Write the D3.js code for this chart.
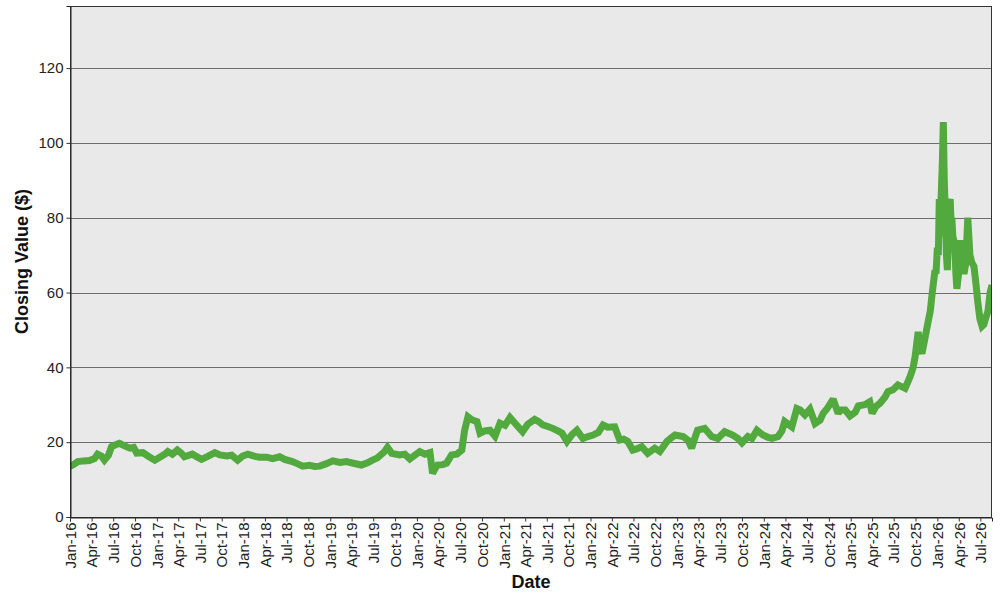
<!DOCTYPE html>
<html>
<head>
<meta charset="utf-8">
<script src="https://cdn.jsdelivr.net/npm/d3@7"></script>
<style>
  html, body { margin: 0; padding: 0; background: #ffffff; }
  svg { display: block; font-family: "Liberation Sans", Arial, sans-serif; }
</style>
</head>
<body>
<svg id="chart" width="1000" height="600"></svg>
<script>
// ---- data ----
const dates = [
"2016-01-01","2016-01-16","2016-02-03","2016-02-27","2016-03-23","2016-04-13","2016-04-26","2016-05-12","2016-05-25","2016-06-11",
"2016-06-24","2016-07-11","2016-07-27","2016-08-18","2016-09-09","2016-09-25","2016-10-08","2016-11-03","2016-11-24","2016-12-23",
"2017-01-13","2017-02-04","2017-02-16","2017-03-07","2017-03-28","2017-04-15","2017-04-27","2017-05-30","2017-06-21","2017-07-08",
"2017-08-03","2017-09-02","2017-09-23","2017-10-22","2017-11-12","2017-12-07","2017-12-28","2018-01-19","2018-02-18","2018-03-09",
"2018-04-08","2018-05-03","2018-06-02","2018-06-23","2018-07-26","2018-08-17","2018-09-07","2018-10-06","2018-10-27","2018-11-18",
"2018-12-13","2019-01-12","2019-02-11","2019-03-10","2019-04-13","2019-05-12","2019-06-07","2019-06-28","2019-07-19","2019-08-18",
"2019-08-30","2019-09-17","2019-10-20","2019-11-11","2019-12-02","2019-12-23","2020-01-13","2020-02-04","2020-02-25","2020-03-07",
"2020-03-20","2020-03-28","2020-04-19","2020-05-05","2020-05-26","2020-06-17","2020-07-08","2020-07-20","2020-08-03","2020-08-19",
"2020-09-10","2020-09-23","2020-10-13","2020-11-04","2020-11-25","2020-12-16","2021-01-06","2021-01-27","2021-02-18","2021-03-04",
"2021-03-21","2021-04-12","2021-05-11","2021-05-28","2021-06-14","2021-07-05","2021-07-26","2021-08-17","2021-09-03","2021-09-24",
"2021-10-15","2021-11-05","2021-11-30","2021-12-21","2022-01-12","2022-02-03","2022-02-23","2022-03-14","2022-04-13","2022-05-04",
"2022-05-21","2022-06-07","2022-06-28","2022-07-14","2022-08-05","2022-08-30","2022-09-29","2022-10-20","2022-11-19","2022-12-10",
"2022-12-23","2023-01-26","2023-02-16","2023-03-03","2023-03-16","2023-03-28","2023-04-27","2023-05-26","2023-06-21","2023-07-20",
"2023-08-23","2023-09-14","2023-10-01","2023-10-26","2023-11-12","2023-12-03","2023-12-28","2024-01-19","2024-02-05","2024-03-01",
"2024-03-17","2024-03-29","2024-04-28","2024-05-19","2024-06-02","2024-06-22","2024-07-13","2024-08-04","2024-08-25","2024-09-07",
"2024-09-24","2024-10-19","2024-11-09","2024-11-18","2024-12-09","2024-12-29","2025-01-20","2025-02-02","2025-03-01","2025-03-22",
"2025-04-01","2025-04-17","2025-05-04","2025-05-25","2025-06-07","2025-06-28","2025-07-19","2025-08-18","2025-09-08","2025-09-21",
"2025-09-29","2025-10-12","2025-10-20","2025-10-28","2025-11-11","2025-11-23","2025-12-02","2025-12-10","2025-12-22","2025-12-26",
"2026-01-01","2026-01-05","2026-01-09","2026-01-13","2026-01-17","2026-01-22","2026-01-26","2026-01-30","2026-02-04","2026-02-08",
"2026-02-12","2026-02-16","2026-02-20","2026-02-24","2026-02-28","2026-03-03","2026-03-07","2026-03-15","2026-03-20","2026-03-24",
"2026-04-02","2026-04-06","2026-04-10","2026-04-14","2026-04-23","2026-05-01","2026-05-09","2026-05-18","2026-05-26","2026-06-04",
"2026-06-13","2026-06-21","2026-06-29","2026-07-08","2026-07-16","2026-07-25","2026-08-02","2026-08-11","2026-08-19"
];
const closing = [
13.5,14.0,14.8,15.0,15.1,15.6,16.8,16.3,15.2,16.5,
18.8,19.3,19.7,19.0,18.4,18.6,17.1,17.2,16.3,15.2,
16.0,16.8,17.5,16.8,17.9,17.0,16.1,16.8,16.0,15.4,
16.2,17.2,16.6,16.3,16.5,15.2,16.3,16.8,16.2,16.0,
16.0,15.6,16.1,15.4,14.8,14.2,13.6,13.8,13.5,13.6,
14.2,15.0,14.6,14.8,14.3,13.9,14.5,15.2,15.8,17.5,
18.6,17.0,16.6,16.8,15.5,16.5,17.5,16.8,17.2,11.7,
13.2,13.9,14.0,14.4,16.6,16.8,17.9,23.2,26.8,26.0,
25.5,22.4,23.0,23.2,21.6,25.1,24.5,26.6,25.0,24.0,
22.8,24.8,26.1,25.5,24.6,24.2,23.7,23.0,22.4,20.2,
22.0,23.2,21.0,21.5,21.9,22.6,24.6,24.0,24.1,20.6,
20.8,20.2,17.9,18.2,18.8,17.0,18.4,17.5,20.2,21.3,
21.9,21.5,20.5,18.4,21.0,23.2,23.7,21.5,21.0,22.8,
21.9,21.0,19.8,21.5,21.0,23.2,21.9,21.3,21.0,21.5,
23.0,25.5,24.1,29.0,28.6,27.3,28.8,25.0,25.9,27.7,
29.0,31.5,27.7,28.6,28.6,27.0,28.0,29.7,30.0,30.8,
27.7,29.5,30.4,32.0,33.5,34.0,35.3,34.4,37.5,40.0,
42.8,49.5,45.0,43.7,48.2,52.2,55.0,59.8,66.0,65.0,
72.0,70.0,85.0,75.0,86.0,95.0,105.6,90.0,80.0,70.0,
66.0,74.0,84.0,85.0,78.0,80.0,75.0,73.0,65.0,61.0,
66.0,70.0,74.0,71.0,65.0,68.0,80.0,70.0,68.0,67.0,
62.0,57.0,53.0,51.0,51.5,53.5,55.0,60.0,62.0
];
const yTicks = [0, 20, 40, 60, 80, 100, 120];
const xStart = "2016-01-01", xEnd = "2026-08-19";
const yMax = 136.6;
const xTitle = "Date", yTitle = "Closing Value ($)";

// ---- layout ----
const svg = d3.select("#chart");
const m = { left: 70, right: 8, top: 6, bottom: 83 };
const W = 1000, H = 600;
const pw = W - m.left - m.right, ph = H - m.top - m.bottom;
const parse = d3.utcParse("%Y-%m-%d");
const data = dates.map((d, i) => ({ date: parse(d), v: closing[i] }));

const x = d3.scaleUtc().domain([parse(xStart), parse(xEnd)]).range([0, pw]);
const y = d3.scaleLinear().domain([0, yMax]).range([ph, 0]);

const g = svg.append("g").attr("transform", `translate(${m.left},${m.top})`);

g.append("rect").attr("width", pw).attr("height", ph).attr("fill", "#e9e9e9");

// gridlines
g.append("g").selectAll("line").data(yTicks.filter(t => t > 0)).join("line")
  .attr("x1", 0).attr("x2", pw)
  .attr("y1", d => Math.round(y(d)) + 0.5).attr("y2", d => Math.round(y(d)) + 0.5)
  .attr("stroke", "#6e6e6e").attr("stroke-width", 1);

// clip
svg.append("defs").append("clipPath").attr("id", "clip")
  .append("rect").attr("width", pw).attr("height", ph);

const line = d3.line().x(d => x(d.date)).y(d => y(d.v));
g.append("path").datum(data)
  .attr("clip-path", "url(#clip)")
  .attr("d", line)
  .attr("fill", "none")
  .attr("stroke", "#52a93e")
  .attr("stroke-width", 7)
  .attr("stroke-linejoin", "miter")
  .attr("stroke-miterlimit", 2);

// frame
g.append("rect").attr("x", 0.5).attr("y", 0.5).attr("width", pw - 1).attr("height", ph)
  .attr("fill", "none").attr("stroke", "#333").attr("stroke-width", 1);

// y axis
const yAxis = g.append("g").attr("transform", "translate(0.5,0)")
  .call(d3.axisLeft(y).tickValues(yTicks).tickSize(4).tickPadding(3).tickFormat(d3.format("d")));
yAxis.select(".domain").attr("stroke", "#222");
yAxis.selectAll(".tick line").attr("stroke", "#333");
yAxis.selectAll("text").attr("font-size", 15).attr("fill", "#222")
  .attr("font-family", "'Liberation Sans', Arial, sans-serif");

// x axis
const xTickVals = d3.utcMonth.every(3).range(parse(xStart), parse(xEnd));
const xAxis = g.append("g").attr("transform", `translate(0,${ph + 0.5})`)
  .call(d3.axisBottom(x).tickValues(xTickVals).tickSize(4).tickFormat(d3.utcFormat("%b-%y")));
xAxis.select(".domain").attr("stroke", "#222");
xAxis.selectAll(".tick line").attr("stroke", "#333");
xAxis.selectAll("text")
  .attr("font-size", 15).attr("fill", "#222")
  .attr("font-family", "'Liberation Sans', Arial, sans-serif")
  .attr("text-anchor", "end")
  .attr("transform", "translate(0,5) rotate(-90)")
  .attr("x", 0).attr("y", 0).attr("dy", "0.35em");

// titles
svg.append("text").attr("x", m.left + pw / 2).attr("y", 588)
  .attr("text-anchor", "middle").attr("font-size", 18).attr("font-weight", "bold")
  .attr("fill", "#111").text(xTitle);
svg.append("text")
  .attr("transform", `translate(28,${m.top + ph / 2}) rotate(-90)`)
  .attr("text-anchor", "middle").attr("font-size", 18).attr("font-weight", "bold")
  .attr("fill", "#111").text(yTitle);
</script>
</body>
</html>
